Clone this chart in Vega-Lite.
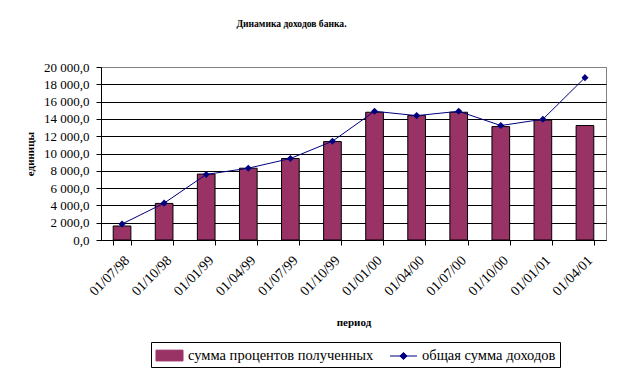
{
  "$schema": "https://vega.github.io/schema/vega-lite/v6.json",
  "width": 505,
  "height": 173,
  "autosize": {"type": "none"},
  "padding": {"left": 101, "top": 67, "right": 15, "bottom": 137},
  "background": "white",
  "title": {
    "text": "Динамика доходов банка.",
    "font": "Liberation Serif",
    "fontSize": 9.6,
    "fontWeight": "bold",
    "color": "black",
    "anchor": "middle",
    "frame": "group",
    "dx": -62,
    "offset": 32
  },
  "data": {
    "values": [
      {"period": "01/07/98", "interest": 1620, "total": 1850},
      {"period": "01/10/98", "interest": 4230, "total": 4260},
      {"period": "01/01/99", "interest": 7620, "total": 7580},
      {"period": "01/04/99", "interest": 8300, "total": 8300},
      {"period": "01/07/99", "interest": 9420, "total": 9420},
      {"period": "01/10/99", "interest": 11380, "total": 11420},
      {"period": "01/01/00", "interest": 14770, "total": 14880},
      {"period": "01/04/00", "interest": 14380, "total": 14380},
      {"period": "01/07/00", "interest": 14770, "total": 14880},
      {"period": "01/10/00", "interest": 13110, "total": 13230},
      {"period": "01/01/01", "interest": 13850, "total": 13960},
      {"period": "01/04/01", "interest": 13230, "total": 18770}
    ]
  },
  "encoding": {
    "x": {
      "field": "period",
      "type": "nominal",
      "sort": null,
      "scale": {"paddingInner": 0.58, "paddingOuter": 0.29},
      "axis": {
        "title": "период",
        "titleFont": "Liberation Serif",
        "titleFontSize": 11,
        "titleFontWeight": "bold",
        "titleColor": "black",
        "titlePadding": 18,
        "labelFont": "Liberation Serif",
        "labelFontSize": 14,
        "labelColor": "black",
        "labelAngle": -45,
        "labelPadding": 8,
        "tickBand": "extent",
        "tickSize": 5,
        "tickColor": "black",
        "domainColor": "black",
        "grid": false
      }
    }
  },
  "layer": [
    {
      "mark": {"type": "bar", "stroke": "black", "strokeWidth": 1},
      "encoding": {
        "y": {
          "field": "interest",
          "type": "quantitative",
          "scale": {"domain": [0, 20000], "nice": false},
          "axis": {
            "title": "единицы",
            "titleFont": "Liberation Serif",
            "titleFontSize": 11,
            "titleFontWeight": "bold",
            "titleColor": "black",
            "titlePadding": 8,
            "values": [0, 2000, 4000, 6000, 8000, 10000, 12000, 14000, 16000, 18000, 20000],
            "labelExpr": "replace(replace(format(datum.value, ',.1f'), regexp(',', 'g'), ' '), '.', ',')",
            "labelFont": "Liberation Serif",
            "labelFontSize": 13,
            "labelColor": "black",
            "labelPadding": 7,
            "labelOverlap": false,
            "tickSize": 5,
            "tickColor": "black",
            "domainColor": "black",
            "grid": true,
            "gridColor": {"condition": {"test": "datum.value === 20000", "value": "#808080"}, "value": "black"},
            "gridOpacity": 1
          }
        },
        "color": {
          "datum": "сумма процентов полученных",
          "type": "nominal",
          "scale": {
            "domain": ["сумма процентов полученных", "общая сумма доходов"],
            "range": ["#993366", "#000080"]
          },
          "legend": {
            "title": null,
            "orient": "none",
            "legendX": 50,
            "legendY": 275,
            "direction": "horizontal",
            "strokeColor": "black",
            "fillColor": "white",
            "padding": 4,
            "symbolSize": 324,
            "symbolOffset": 5,
            "labelOffset": 9,
            "labelLimit": 400,
            "columnPadding": 14,
            "symbolType": {"expr": "datum.value === 'сумма процентов полученных' ? 'M-1.5,-0.6H1.5V0.6H-1.5Z' : 'M-1.5,0H1.5M-0.4,0L0,-0.4L0.4,0L0,0.4Z'"},
            "symbolStrokeColor": {"expr": "datum.value === 'сумма процентов полученных' ? 'black' : '#000080'"},
            "symbolStrokeWidth": 1,
            "symbolOpacity": 1,
            "labelFont": "Liberation Serif",
            "labelFontSize": 14.5,
            "labelColor": "black"
          }
        }
      }
    },
    {
      "mark": {"type": "line", "strokeWidth": 1, "point": {"shape": "diamond", "filled": true, "size": 50}},
      "encoding": {
        "y": {
          "field": "total",
          "type": "quantitative",
          "axis": {
            "title": "единицы",
            "titleFont": "Liberation Serif",
            "titleFontSize": 11,
            "titleFontWeight": "bold",
            "titleColor": "black",
            "titlePadding": 8,
            "values": [0, 2000, 4000, 6000, 8000, 10000, 12000, 14000, 16000, 18000, 20000],
            "labelExpr": "replace(replace(format(datum.value, ',.1f'), regexp(',', 'g'), ' '), '.', ',')",
            "labelFont": "Liberation Serif",
            "labelFontSize": 13,
            "labelColor": "black",
            "labelPadding": 7,
            "labelOverlap": false,
            "tickSize": 5,
            "tickColor": "black",
            "domainColor": "black",
            "grid": true,
            "gridColor": {"condition": {"test": "datum.value === 20000", "value": "#808080"}, "value": "black"},
            "gridOpacity": 1
          }
        },
        "color": {"datum": "общая сумма доходов", "type": "nominal"}
      }
    }
  ],
  "config": {
    "view": {"stroke": "#808080", "strokeWidth": 1}
  }
}
